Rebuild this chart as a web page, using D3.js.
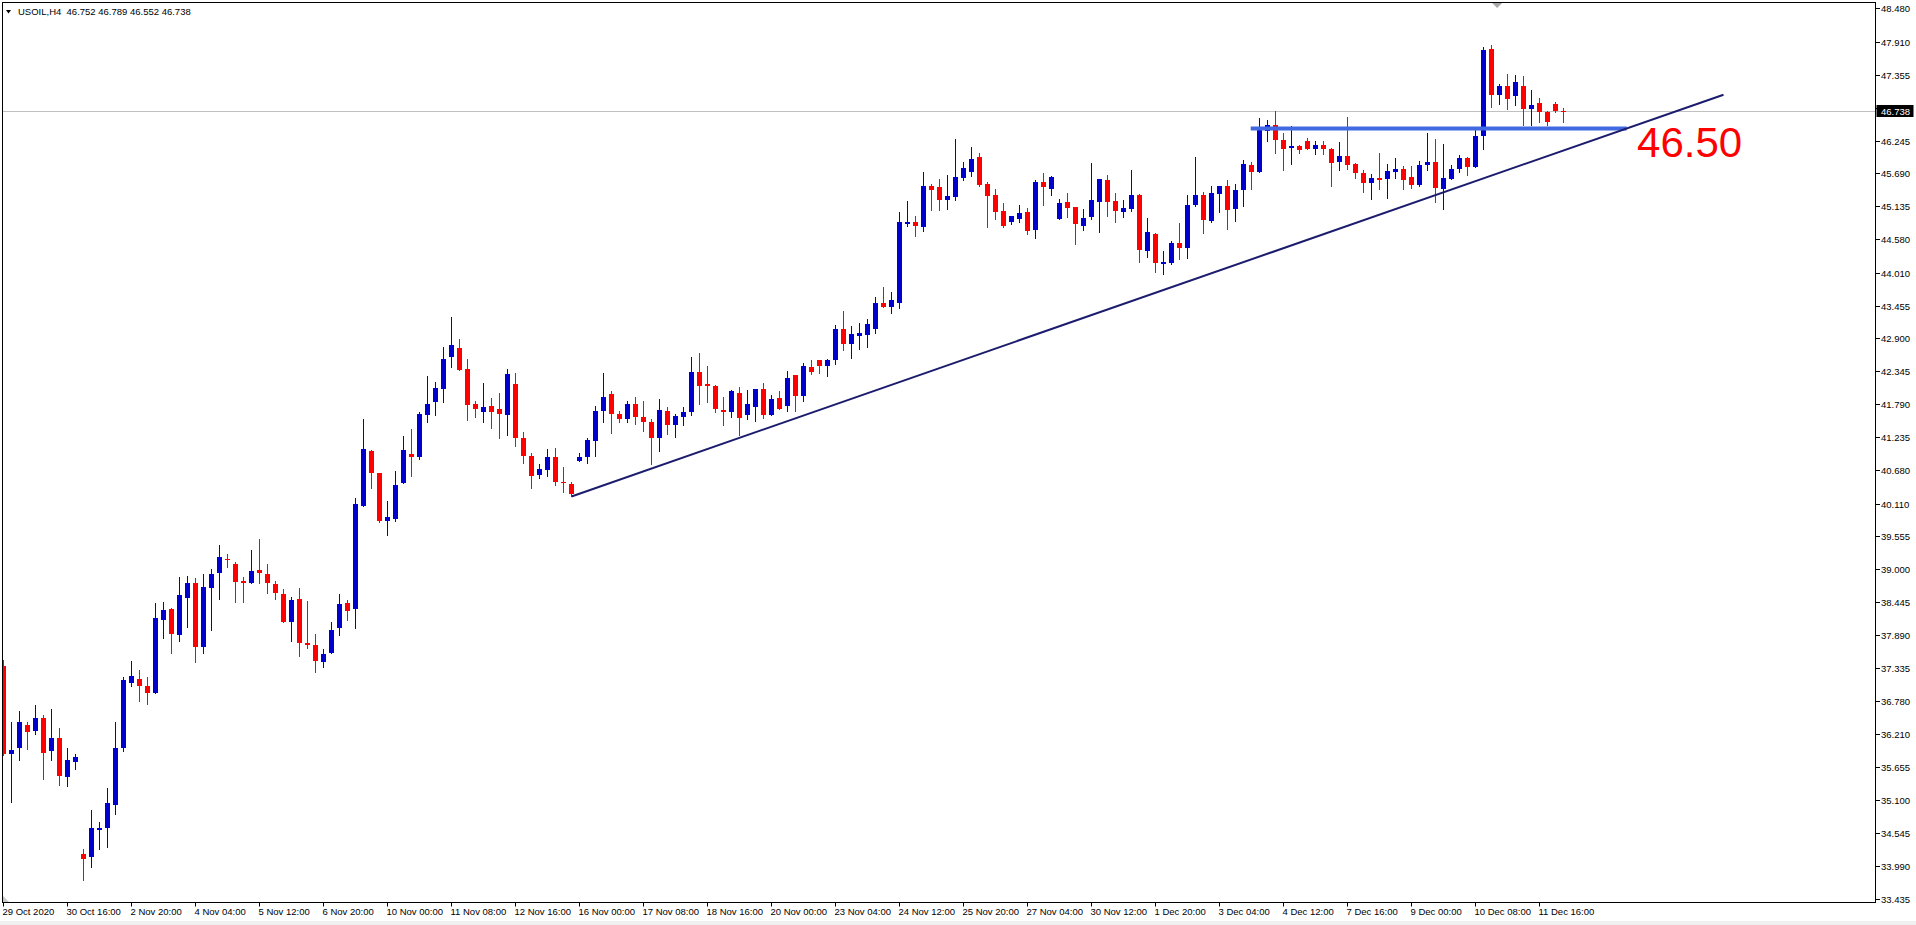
<!DOCTYPE html>
<html>
<head>
<meta charset="utf-8">
<script src="https://cdn.jsdelivr.net/npm/d3@7"></script>
<style>
  body { margin: 0; background: #fff; overflow: hidden; }
  svg { display: block; }
  text { font-family: "Liberation Sans", Arial, sans-serif; }
</style>
</head>
<body>
<svg></svg>
<script>
const symbol = "USOIL,H4"

// 4H candles (bar 0 = 29 Oct 2020)
const opens = [
  37.37, 35.88, 35.98, 36.36, 36.27, 36.49, 35.93, 36.15, 35.49, 35.74,
  34.19, 34.13, 34.60, 34.63, 35.02, 35.98, 37.08, 37.15, 37.03, 36.90,
  38.15, 38.33, 37.88, 38.52, 38.77, 37.69, 38.69, 38.94, 39.17, 39.09,
  38.80, 38.77, 38.99, 38.92, 38.75, 38.58, 38.11, 38.50, 37.75, 37.72,
  37.44, 37.59, 38.00, 38.43, 38.33, 40.07, 41.00, 40.63, 39.82, 39.85,
  40.46, 40.95, 40.89, 41.60, 41.83, 42.05, 42.58, 42.74, 42.38, 41.79,
  41.66, 41.76, 41.71, 41.60, 42.13, 41.22, 40.92, 40.60, 40.68, 40.90,
  40.48, 40.44, 40.83, 40.89, 41.17, 41.67, 41.96, 41.62, 41.54, 41.79,
  41.57, 41.49, 41.21, 41.67, 41.44, 41.58, 41.65, 42.34, 42.13, 42.10,
  41.69, 41.65, 41.98, 41.60, 41.75, 42.05, 41.61, 41.89, 41.76, 42.28,
  41.93, 42.42, 42.54, 42.43, 42.54, 43.06, 42.81, 42.94, 42.96, 43.06,
  43.50, 43.43, 43.50, 44.83, 44.87, 44.78, 45.48, 45.46, 45.24, 45.29,
  45.61, 45.71, 45.97, 45.51, 45.32, 45.05, 44.87, 44.92, 45.04, 44.73,
  45.54, 45.43, 44.92, 45.21, 45.12, 44.80, 44.95, 45.21, 45.58, 45.22,
  45.04, 45.09, 45.32, 44.38, 44.66, 44.16, 44.18, 44.51, 44.43, 45.16,
  45.32, 44.89, 45.34, 45.48, 45.09, 45.41, 45.83, 45.72, 46.41, 46.51,
  46.26, 46.12, 46.15, 46.24, 46.11, 46.17, 46.11, 45.89, 45.98, 45.85,
  45.70, 45.53, 45.61, 45.60, 45.71, 45.76, 45.63, 45.49, 45.84, 45.88,
  45.43, 45.60, 45.77, 45.95, 45.80, 46.33, 47.79, 47.02, 47.17, 47.00,
  47.17, 46.77, 46.88, 46.73, 46.86, 46.752
]
const highs = [
  37.47, 36.42, 36.61, 36.41, 36.71, 36.54, 36.64, 36.32, 35.98, 35.88,
  34.27, 34.93, 34.73, 35.31, 36.42, 37.18, 37.45, 37.30, 37.18, 38.43,
  38.45, 38.35, 38.87, 38.89, 38.85, 38.92, 39.00, 39.41, 39.26, 39.13,
  38.87, 39.33, 39.51, 39.09, 38.80, 38.67, 38.53, 38.68, 38.47, 37.91,
  37.65, 38.11, 38.58, 38.48, 40.20, 41.54, 41.02, 40.63, 40.16, 40.66,
  41.25, 41.37, 41.66, 42.27, 42.16, 42.76, 43.26, 42.89, 42.55, 41.84,
  42.15, 41.89, 41.97, 42.38, 42.32, 41.32, 40.96, 40.78, 41.03, 41.05,
  40.72, 40.47, 40.96, 41.22, 41.76, 42.32, 42.01, 41.67, 41.84, 41.91,
  41.84, 41.54, 41.88, 41.74, 41.62, 41.74, 42.59, 42.66, 42.43, 42.11,
  41.91, 42.03, 42.08, 42.03, 42.05, 42.15, 41.94, 42.01, 42.35, 42.28,
  42.49, 42.54, 42.54, 42.55, 43.13, 43.36, 43.11, 43.16, 43.23, 43.60,
  43.77, 43.69, 45.04, 45.22, 44.97, 45.71, 45.51, 45.60, 45.66, 46.27,
  45.88, 46.14, 46.03, 45.54, 45.43, 45.19, 44.97, 45.16, 45.10, 45.58,
  45.70, 45.65, 45.26, 45.36, 45.12, 45.09, 45.87, 45.60, 45.66, 45.36,
  45.24, 45.75, 45.34, 44.94, 44.68, 44.38, 44.55, 44.85, 45.32, 45.97,
  45.38, 45.48, 45.48, 45.58, 45.51, 45.92, 45.88, 46.62, 46.59, 46.74,
  46.37, 46.49, 46.17, 46.29, 46.24, 46.24, 46.12, 46.22, 46.64, 45.87,
  45.75, 45.68, 46.04, 45.85, 45.95, 45.81, 45.81, 45.90, 46.37, 46.27,
  46.19, 45.83, 46.00, 45.97, 46.46, 47.83, 47.86, 47.20, 47.37, 47.35,
  47.34, 47.10, 46.96, 46.75, 46.89, 46.789
]
const lows = [
  35.86, 35.06, 35.78, 35.96, 36.22, 35.46, 35.77, 35.35, 35.33, 35.63,
  33.74, 33.96, 34.28, 34.31, 34.87, 35.93, 37.03, 36.78, 36.73, 36.90,
  37.84, 37.59, 37.79, 38.03, 37.44, 37.59, 37.98, 38.50, 39.04, 38.44,
  38.45, 38.77, 38.76, 38.59, 38.49, 38.10, 37.78, 37.54, 37.67, 37.27,
  37.34, 37.59, 37.88, 38.15, 38.00, 40.07, 40.38, 39.80, 39.58, 39.82,
  40.46, 40.58, 40.87, 41.49, 41.61, 41.83, 42.42, 42.36, 41.53, 41.58,
  41.49, 41.39, 41.22, 41.27, 41.09, 40.80, 40.38, 40.55, 40.58, 40.43,
  40.31, 40.23, 40.83, 40.80, 40.92, 41.49, 41.31, 41.49, 41.49, 41.46,
  41.34, 40.78, 41.00, 41.29, 41.24, 41.44, 41.61, 41.80, 41.83, 41.66,
  41.44, 41.58, 41.27, 41.54, 41.51, 41.56, 41.60, 41.70, 41.68, 41.68,
  41.85, 42.30, 42.32, 42.27, 42.47, 42.70, 42.57, 42.72, 42.76, 43.00,
  43.44, 43.33, 43.42, 44.80, 44.63, 44.72, 45.07, 45.07, 45.09, 45.24,
  45.58, 45.65, 45.48, 44.78, 44.92, 44.78, 44.83, 44.87, 44.67, 44.60,
  45.16, 45.32, 44.92, 44.95, 44.50, 44.74, 44.92, 44.70, 44.97, 44.87,
  44.95, 45.05, 44.19, 44.28, 44.02, 43.99, 44.16, 44.24, 44.26, 45.14,
  44.68, 44.87, 45.04, 44.75, 44.89, 45.14, 45.43, 45.72, 46.24, 46.04,
  45.75, 45.85, 46.04, 46.11, 46.02, 46.02, 45.47, 45.74, 45.77, 45.62,
  45.38, 45.26, 45.43, 45.28, 45.62, 45.43, 45.45, 45.47, 45.74, 45.21,
  45.09, 45.60, 45.72, 45.67, 45.80, 46.11, 46.82, 46.87, 46.77, 46.85,
  46.50, 46.50, 46.56, 46.51, 46.73, 46.552
]
const closes = [
  35.88, 35.95, 36.41, 36.25, 36.49, 35.90, 36.15, 35.51, 35.78, 35.83,
  34.10, 34.63, 34.63, 35.05, 35.98, 37.13, 37.20, 37.02, 36.91, 38.18,
  38.31, 37.91, 38.56, 38.77, 37.69, 38.70, 38.92, 39.21, 39.15, 38.79,
  38.76, 38.97, 38.93, 38.76, 38.59, 38.11, 38.48, 37.76, 37.72, 37.45,
  37.57, 37.97, 38.41, 38.30, 40.10, 41.03, 40.62, 39.82, 39.88, 40.42,
  41.02, 40.90, 41.62, 41.79, 42.06, 42.55, 42.79, 42.37, 41.78, 41.70,
  41.74, 41.66, 41.63, 42.30, 41.21, 40.92, 40.58, 40.69, 40.90, 40.48,
  40.45, 40.27, 40.90, 41.19, 41.67, 41.91, 41.63, 41.54, 41.79, 41.58,
  41.48, 41.21, 41.69, 41.43, 41.59, 41.66, 42.34, 42.10, 42.09, 41.71,
  41.65, 42.01, 41.56, 41.79, 42.05, 41.60, 41.88, 41.70, 42.23, 41.93,
  42.43, 42.33, 42.43, 42.54, 43.06, 42.81, 42.98, 42.99, 43.14, 43.50,
  43.44, 43.55, 44.87, 44.87, 44.80, 45.48, 45.41, 45.24, 45.31, 45.63,
  45.78, 45.93, 45.49, 45.31, 45.04, 44.80, 44.97, 45.02, 44.72, 45.54,
  45.46, 45.63, 45.19, 45.10, 44.83, 44.94, 45.24, 45.60, 45.21, 45.05,
  45.10, 45.32, 44.40, 44.70, 44.18, 44.19, 44.51, 44.43, 45.16, 45.32,
  44.90, 45.36, 45.48, 45.07, 45.41, 45.85, 45.71, 46.42, 46.51, 46.26,
  46.11, 46.15, 46.09, 46.11, 46.17, 46.11, 45.87, 45.98, 45.84, 45.69,
  45.52, 45.61, 45.58, 45.73, 45.76, 45.58, 45.50, 45.83, 45.88, 45.45,
  45.61, 45.76, 45.95, 45.79, 46.32, 47.78, 47.02, 47.17, 46.95, 47.23,
  46.77, 46.85, 46.72, 46.55, 46.75, 46.738
]

const priceTicks = [
  48.480, 47.910, 47.355, 46.800, 46.245, 45.690, 45.135, 44.580, 44.010, 43.455,
  42.900, 42.345, 41.790, 41.235, 40.680, 40.110, 39.555, 39.000, 38.445, 37.890,
  37.335, 36.780, 36.210, 35.655, 35.100, 34.545, 33.990, 33.435
]

const timeLabels = [
  "29 Oct 2020", "30 Oct 16:00", "2 Nov 20:00", "4 Nov 04:00", "5 Nov 12:00",
  "6 Nov 20:00", "10 Nov 00:00", "11 Nov 08:00", "12 Nov 16:00", "16 Nov 00:00",
  "17 Nov 08:00", "18 Nov 16:00", "20 Nov 00:00", "23 Nov 04:00", "24 Nov 12:00",
  "25 Nov 20:00", "27 Nov 04:00", "30 Nov 12:00", "1 Dec 20:00", "3 Dec 04:00",
  "4 Dec 12:00", "7 Dec 16:00", "9 Dec 00:00", "10 Dec 08:00", "11 Dec 16:00"
]
const labelEvery = 8

// drawn objects: trend line, horizontal level, text
const trendStart = { bar: 71, price: 40.23 }
const trendEnd = { bar: 215, price: 47.02 }
const levelLine = { from: 155.9, to: 202.9, price: 46.45 }
const levelText = { bar: 204.2, price: 45.97, text: "46.50" }
const shiftBar = 186.7


const width = 1916
const height = 925
const frameLeft = 2.5
const frameTop = 2.5
const frameRight = 1875.5
const frameBottom = 902.5

const svg = d3.select("svg")
  .attr("width", width)
  .attr("height", height)

const candles = opens.map((o, i) => {
  return { i: i, o: o, h: highs[i], l: lows[i], c: closes[i] }
})

const xScale = d3.scaleLinear()
  .domain([0, candles.length - 1])
  .range([3.5, 3.5 + 8 * (candles.length - 1)])

const yScale = d3.scaleLinear()
  .domain([33.435, 48.48])
  .range([898.5, 8.3])

const yRound = (v) => { return Math.round(yScale(v)) }

svg.append("rect")
  .attr("x", 0)
  .attr("y", 921)
  .attr("width", width)
  .attr("height", 4)
  .style("fill", "#f0f0f0")

svg.append("clipPath")
  .attr("id", "plot")
  .append("rect")
  .attr("x", frameLeft + 0.5)
  .attr("y", frameTop + 0.5)
  .attr("width", frameRight - frameLeft - 1)
  .attr("height", frameBottom - frameTop - 1)

const plot = svg.append("g")
  .attr("clip-path", "url(#plot)")
  .attr("shape-rendering", "crispEdges")

const last = candles[candles.length - 1]

// current price line
plot.append("line")
  .attr("x1", frameLeft)
  .attr("x2", frameRight)
  .attr("y1", yRound(last.c) + 0.5)
  .attr("y2", yRound(last.c) + 0.5)
  .style("stroke", "#c0c0c0")

const candleGroups = plot.selectAll("g.candle")
  .data(candles)
  .enter()
  .append("g")
  .attr("class", "candle")
  .style("fill", (d) => { return d.c >= d.o ? "#0000cd" : "#ff0000" })

candleGroups
  .append("rect")
  .attr("x", (d) => { return xScale(d.i) - 0.5 })
  .attr("y", (d) => { return yRound(d.h) })
  .attr("width", 1)
  .attr("height", (d) => { return yRound(d.l) - yRound(d.h) + 1 })

candleGroups
  .append("rect")
  .attr("x", (d) => { return xScale(d.i) - 2.5 })
  .attr("y", (d) => { return yRound(Math.max(d.o, d.c)) })
  .attr("width", 5)
  .attr("height", (d) => {
    return Math.max(1, yRound(Math.min(d.o, d.c)) - yRound(Math.max(d.o, d.c)))
  })

// horizontal level
svg.append("line")
  .attr("x1", xScale(levelLine.from))
  .attr("x2", xScale(levelLine.to))
  .attr("y1", yScale(levelLine.price))
  .attr("y2", yScale(levelLine.price))
  .style("stroke", "#4169e1")
  .style("stroke-width", 4)

// trend line
svg.append("line")
  .attr("x1", xScale(trendStart.bar))
  .attr("y1", yScale(trendStart.price))
  .attr("x2", xScale(trendEnd.bar))
  .attr("y2", yScale(trendEnd.price))
  .style("stroke", "#1c1c6e")
  .style("stroke-width", 2)

svg.append("text")
  .attr("x", xScale(levelText.bar))
  .attr("y", yScale(levelText.price))
  .style("font-size", "42px")
  .style("fill", "#ff0000")
  .text(levelText.text)

// chart shift marker and corner marker
const sx = xScale(shiftBar)
svg.append("path")
  .attr("d", `M${sx - 5},3 L${sx + 5},3 L${sx},8 Z`)
  .style("fill", "#a8a8a8")

svg.append("path")
  .attr("d", "M3,896 L3,902 L9,902 Z")
  .style("fill", "#c8c8c8")

// frame
svg.append("rect")
  .attr("x", frameLeft)
  .attr("y", frameTop)
  .attr("width", frameRight - frameLeft)
  .attr("height", frameBottom - frameTop)
  .style("fill", "none")
  .style("stroke", "#000")

// price axis
const yAxis = svg.append("g")
  .attr("transform", `translate(${frameRight - 0.5}, 0)`)
  .call(d3.axisRight(yScale.copy().interpolate(d3.interpolateRound))
    .tickValues(priceTicks)
    .tickFormat(d3.format(".3f"))
    .tickSize(5)
    .tickPadding(1))

yAxis.select(".domain").remove()
yAxis.selectAll("line").attr("x1", 1).style("stroke", "#000")
yAxis.selectAll("text")
  .attr("font-family", null)
  .style("font-size", "9.5px")
  .style("fill", "#000")

// current price label
const py = yRound(last.c)
svg.append("rect")
  .attr("x", frameRight + 1)
  .attr("y", py - 6)
  .attr("width", 37)
  .attr("height", 12)
  .style("fill", "#000")

svg.append("text")
  .attr("x", frameRight + 5.5)
  .attr("y", py + 3.5)
  .style("font-size", "9.5px")
  .style("fill", "#fff")
  .text(last.c.toFixed(3))

// time axis
const xAxis = svg.append("g")
  .attr("transform", `translate(0, ${frameBottom})`)
  .call(d3.axisBottom(xScale)
    .offset(0)
    .tickValues(timeLabels.map((d, i) => { return i * labelEvery }))
    .tickFormat((d, i) => { return timeLabels[i] })
    .tickSize(4)
    .tickPadding(2))

xAxis.select(".domain").remove()
xAxis.selectAll("line").style("stroke", "#000")
xAxis.selectAll("text")
  .attr("font-family", null)
  .attr("text-anchor", "start")
  .attr("x", -1)
  .style("font-size", "9.5px")
  .style("fill", "#000")

// header
svg.append("path")
  .attr("d", "M6,10 L11,10 L8.5,13.5 Z")
  .style("fill", "#000")

svg.append("text")
  .attr("x", 18)
  .attr("y", 15)
  .style("font-size", "9.5px")
  .style("white-space", "pre")
  .style("fill", "#000")
  .text(`${symbol}  ${last.o.toFixed(3)} ${last.h.toFixed(3)} ${last.l.toFixed(3)} ${last.c.toFixed(3)}`)
</script>
</body>
</html>
